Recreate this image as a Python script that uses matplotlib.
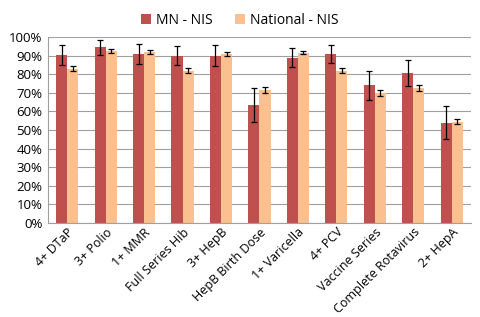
import matplotlib
matplotlib.use("Agg")
import matplotlib.pyplot as plt
import numpy as np
from matplotlib.ticker import PercentFormatter

categories = ["4+ DTaP", "3+ Polio", "1+ MMR", "Full Series Hib", "3+ HepB",
              "HepB Birth Dose", "1+ Varicella", "4+ PCV", "Vaccine Series",
              "Complete Rotavirus", "2+ HepA"]
mn_values = [90.5, 94.5, 91, 90, 90, 63.5, 89, 91, 74, 80.5, 54]
mn_errors = [5.5, 4, 5.5, 5, 5.5, 9, 5, 5, 8, 7, 9]
nat_values = [83, 92.5, 92, 82, 91, 71.5, 91.5, 82, 70, 72.5, 54.5]
nat_errors = [1.2, 1, 1, 1.2, 1.2, 1.8, 0.8, 1.2, 1.5, 1.5, 1.5]
series_names = ["MN - NIS", "National - NIS"]

plt.rcParams['font.family'] = ['Open Sans', 'DejaVu Sans']

fig = plt.figure(figsize=(4.8, 3.17), dpi=100)
ax = fig.add_axes([0.1, 0.2965, 0.881, 0.5865])

x = np.arange(len(categories))
w = 0.29
ekw = dict(elinewidth=0.9, capthick=0.9, ecolor='black')
ax.bar(x - w/2, mn_values, w, color='#C0504D', label=series_names[0],
       yerr=mn_errors, capsize=2, error_kw=ekw, zorder=2)
ax.bar(x + w/2, nat_values, w, color='#FAC090', label=series_names[1],
       yerr=nat_errors, capsize=2, error_kw=ekw, zorder=2)

ax.set_xlim(-0.5, len(categories) - 0.5)
ax.set_ylim(0, 100)
ax.set_yticks(np.arange(0, 101, 10))
ax.yaxis.set_major_formatter(PercentFormatter(decimals=0))
ax.yaxis.grid(True, color='#A0A0A0', linewidth=0.8, zorder=0)
ax.set_axisbelow(True)
for s in ['top', 'right']:
    ax.spines[s].set_visible(False)
for s in ['left', 'bottom']:
    ax.spines[s].set_color('#A0A0A0')
ax.tick_params(axis='y', length=0, labelsize=9.5, pad=4)
ax.tick_params(axis='x', length=0, labelsize=9, pad=2)
ax.set_xticks(x)
ax.set_xticklabels(categories, rotation=45, ha='right', rotation_mode='anchor')

fig.legend(loc='upper center', bbox_to_anchor=(0.5, 1.0), ncol=2, frameon=False,
           fontsize=10, handlelength=0.7, handleheight=0.7, columnspacing=1.6,
           handletextpad=0.4)

fig.savefig("out.png", dpi=100)
